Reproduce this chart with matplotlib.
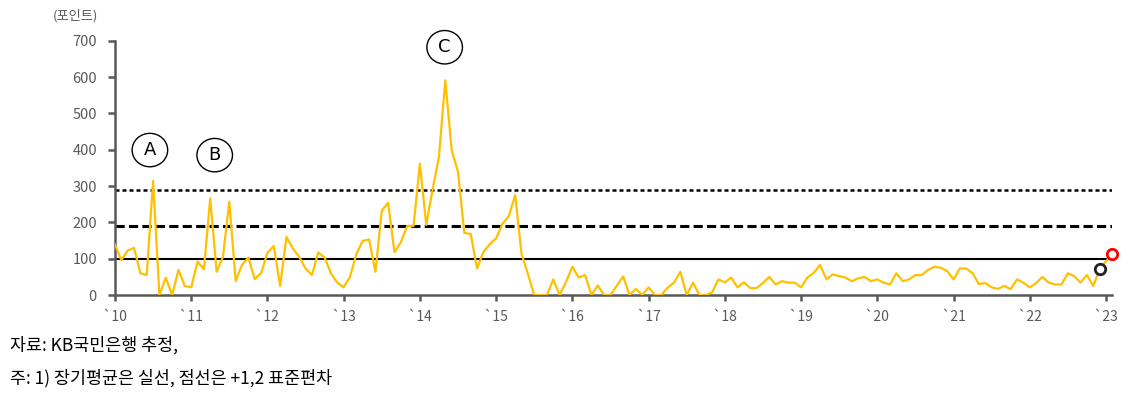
import matplotlib.pyplot as plt
from matplotlib.patches import Ellipse

plt.rcParams['font.family'] = ['Noto Sans CJK KR', 'DejaVu Sans']

# 월별 지수 (2010.01 ~ 2023.02)
v2010 = [139, 96, 122, 130, 60, 55, 314, 0, 48, 0, 69, 25]
v2011 = [21, 92, 71, 266, 64, 105, 257, 39, 83, 103, 44, 60]
v2012 = [116, 135, 25, 160, 128, 105, 73, 55, 117, 103, 60, 34]
v2013 = [21, 50, 113, 149, 153, 64, 232, 254, 118, 145, 190, 190]
v2014 = [362, 193, 290, 381, 591, 399, 339, 171, 168, 73, 119, 140]
v2015 = [156, 196, 217, 275, 113, 58, 0, 0, 0, 43, 0, 36]
v2016 = [78, 48, 55, 0, 26, 0, 0, 26, 51, 0, 17, 0]
v2017 = [21, 0, 0, 20, 34, 64, 0, 34, 0, 0, 7, 43]
v2018 = [35, 48, 21, 35, 19, 19, 33, 50, 29, 38, 34, 34]
v2019 = [21, 48, 61, 83, 43, 57, 52, 48, 38, 46, 50, 38]
v2020 = [43, 34, 29, 60, 38, 43, 55, 55, 69, 78, 75, 66]
v2021 = [43, 73, 73, 60, 30, 33, 21, 17, 25, 16, 43, 34]
v2022 = [21, 33, 50, 34, 29, 29, 60, 52, 34, 55, 25, 71]
v2023 = [93, 114]

valores = (v2010 + v2011 + v2012 + v2013 + v2014 + v2015 + v2016 + v2017
           + v2018 + v2019 + v2020 + v2021 + v2022 + v2023)
meses = list(range(len(valores)))

media = 100
sigma1 = 189
sigma2 = 289

anos = ['`10', '`11', '`12', '`13', '`14', '`15', '`16', '`17', '`18',
        '`19', '`20', '`21', '`22', '`23']
idx_preto = 155   # 2022.12
idx_vermelho = 157  # 2023.02

# rótulos dos períodos (A, B, C): mês, nível
marcas = ['A', 'B', 'C']
marcas_x = [5.5, 15.7, 51.9]
marcas_y = [399, 385, 682]

fig = plt.figure(figsize=(11.37, 4.01), dpi=100)
ax = fig.add_axes([0.1011, 0.2643, 0.8772, 0.6342])

cinza = '#595959'

ax.axhline(media, color='black', lw=1.5, zorder=2)
ax.axhline(sigma1, color='black', lw=2.2, dashes=(3, 1.4), zorder=2)
ax.axhline(sigma2, color='black', lw=1.8, dashes=(1.6, 1.2), zorder=2)

ax.plot(meses, valores, color='#FFC000', lw=1.6, zorder=3)
ax.plot(meses[idx_preto], valores[idx_preto], 'o', ms=7.5, mfc='white',
        mec='#222222', mew=2, zorder=4, clip_on=False)
ax.plot(meses[idx_vermelho], valores[idx_vermelho], 'o', ms=7.5, mfc='white',
        mec='red', mew=2, zorder=4, clip_on=False)

for m, x, y in zip(marcas, marcas_x, marcas_y):
    ax.add_patch(Ellipse((x, y), 5.6, 92, fill=False, ec='black', lw=1,
                         clip_on=False))
    ax.text(x, y, m, ha='center', va='center', fontsize=13,
            family=['DejaVu Sans'], clip_on=False)

ax.set_xlim(0, 157)
ax.set_ylim(0, 700)
ax.set_yticks(range(0, 701, 100))
ax.set_xticks(range(0, 157, 12))
ax.set_xticklabels(anos)

for s in ['top', 'right']:
    ax.spines[s].set_visible(False)
for s in ['left', 'bottom']:
    ax.spines[s].set_color(cinza)
    ax.spines[s].set_linewidth(1.8)
ax.tick_params(axis='y', colors=cinza, labelsize=10.5, length=5, width=1.8,
               pad=8)
ax.tick_params(axis='x', colors=cinza, labelsize=10, length=4, width=1.8,
               pad=7)

fig.text(0.066, 0.96, '(포인트)', fontsize=9.5, color=cinza, ha='center',
         va='center')
fig.text(0.009, 0.138, '자료: KB국민은행 추정,', fontsize=12.5, va='center')
fig.text(0.009, 0.058, '주: 1) 장기평균은 실선, 점선은 +1,2 표준편차',
         fontsize=12.5, va='center')

plt.savefig('out.png', dpi=100)
